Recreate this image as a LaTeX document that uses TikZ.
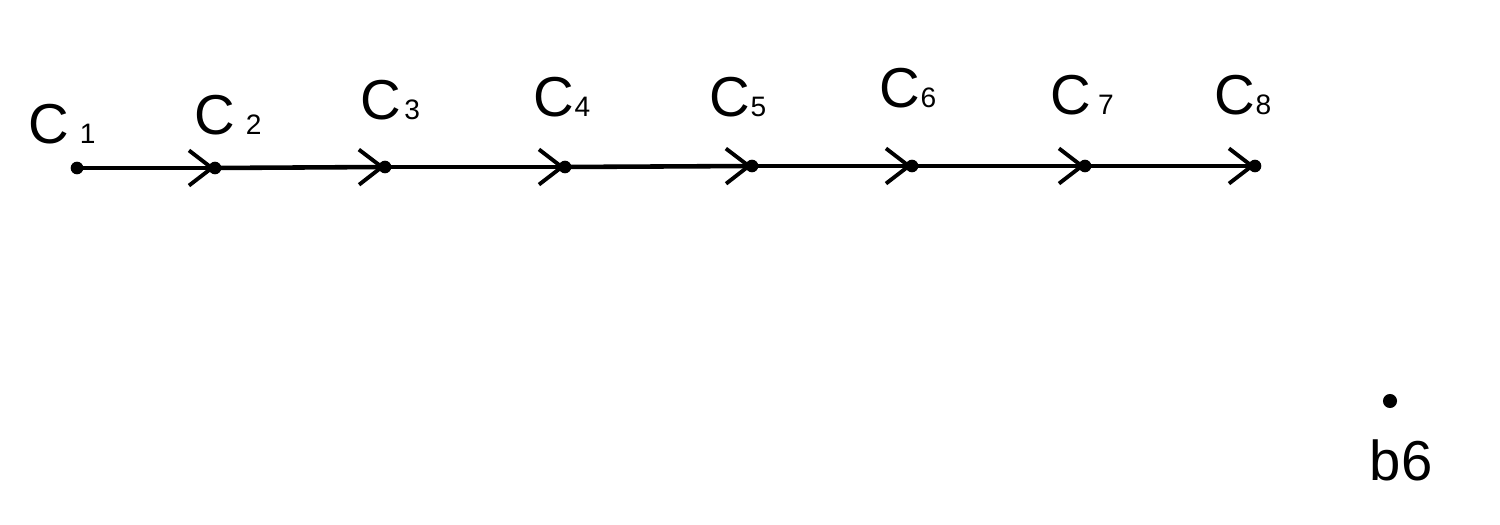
\documentclass[tikz,border=0pt]{standalone}
\usepackage{fontspec}
\setmainfont{Liberation Sans}
\usetikzlibrary{arrows.meta}
\tikzset{
  dot/.style={circle,fill=black,inner sep=0pt,minimum size=3.6pt},
  arr/.style={line width=1.3pt,-{Straight Barb[length=6.5pt,width=10pt,line width=1.1pt]}},
  lbl/.style={font=\fontsize{16}{18}\selectfont,inner sep=0pt}
}
\begin{document}
\begin{tikzpicture}[x=0.01cm,y=-0.01cm]
\path[use as bounding box] (0,0) rectangle (1500,525);
\node[dot] (c1) at (77,168) {};
\node[dot] (c2) at (215,168) {};
\node[dot] (c3) at (385,167) {};
\node[dot] (c4) at (565,167) {};
\node[dot] (c5) at (752,166) {};
\node[dot] (c6) at (912,166) {};
\node[dot] (c7) at (1085,166) {};
\node[dot] (c8) at (1255,166) {};
\node[dot,minimum size=4pt] (b) at (1390,401) {};
\draw[arr] (c1.center) -- (c2.center);
\draw[arr] (c2.center) -- (c3.center);
\draw[arr] (c3.center) -- (c4.center);
\draw[arr] (c4.center) -- (c5.center);
\draw[arr] (c5.center) -- (c6.center);
\draw[arr] (c6.center) -- (c7.center);
\draw[arr] (c7.center) -- (c8.center);
\node[lbl] (l1) at (62,124) {C\kern3pt{\footnotesize 1}};
\node[lbl] (l2) at (228,115) {C\kern3pt{\footnotesize 2}};
\node[lbl] (l3) at (390,100) {C\kern1pt{\footnotesize 3}};
\node[lbl] (l4) at (562,97) {C{\footnotesize 4}};
\node[lbl] (l5) at (738,97) {C{\footnotesize 5}};
\node[lbl] (l6) at (908,88) {C{\footnotesize 6}};
\node[lbl] (l7) at (1082,95) {C\kern2pt{\footnotesize 7}};
\node[lbl] (l8) at (1243,95) {C{\footnotesize 8}};
\node[lbl] (lb) at (1401,460) {b6};
\end{tikzpicture}
\end{document}
